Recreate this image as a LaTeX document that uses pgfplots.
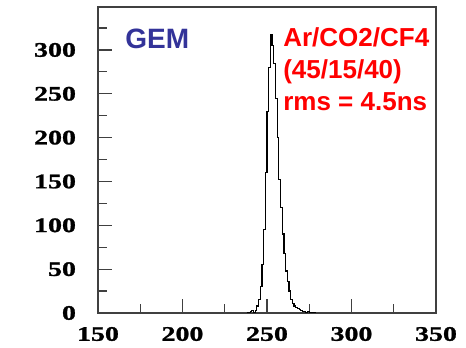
\documentclass[border=0pt]{standalone}
\usepackage{fontspec}
\setmainfont{Liberation Sans}
\newfontfamily\tickfont[FakeStretch=1.35,FakeBold=1.2]{Liberation Serif Bold}
\usepackage{pgfplots}
\pgfplotsset{compat=1.18}
\definecolor{gemblue}{RGB}{51,51,153}
\begin{document}
\begin{tikzpicture}
\useasboundingbox (-73.5pt,-26.25pt) rectangle (276pt,234.75pt);
\begin{axis}[
 scale only axis, width=253.5pt, height=229.5pt,
 xmin=150, xmax=350, ymin=0, ymax=349,
 xtick={150,200,...,350}, ytick={0,50,...,300},
 minor xtick={175,225,275,325}, minor ytick={25,75,...,325},
 xtick pos=bottom, ytick pos=left,
 tick align=inside, major tick length=10.5pt, minor tick length=6.5pt,
 axis line style={line width=1.1pt, black!75},
 tick style={black!75, line width=0.9pt},
 /pgf/number format/assume math mode=true,
 ticklabel style={font=\tickfont\fontsize{15.5}{16}\selectfont},
 xticklabel style={yshift=-7pt},
 yticklabel style={xshift=-13pt},
]
\addplot[const plot, black, line width=0.9pt] coordinates {
(238,0) (239,0) (240,2) (241,3) (242,1) (243,3) (244,8) (245,15) (246,30)
(247,55) (248,95) (249,160) (250,230) (251,280) (252,318) (253,305)
(254,285) (255,245) (256,200) (257,152) (258,120) (259,90) (260,68)
(261,48) (262,36) (263,25) (264,15) (265,11) (266,8) (267,6) (268,5)
(269,4) (270,3) (271,2) (272,2) (273,1) (274,2) (275,1) (276,0) (277,1) (278,0) (279,0)
};
\node[anchor=base west, font=\fontsize{21}{24}\selectfont\bfseries, text=gemblue, inner sep=0pt] at (axis cs:166,301.5) {GEM};
\node[anchor=base west, font=\fontsize{19.5}{24}\selectfont\bfseries, text=red, inner sep=0pt] at (axis cs:259.5,303.7) {Ar/CO2/CF4};
\node[anchor=base west, font=\fontsize{19.5}{24}\selectfont\bfseries, text=red, inner sep=0pt] at (axis cs:259.5,267.3) {(45/15/40)};
\node[anchor=base west, font=\fontsize{19.5}{24}\selectfont\bfseries, text=red, inner sep=0pt] at (axis cs:259.5,230.9) {rms = 4.5ns};
\end{axis}
\end{tikzpicture}
\end{document}
